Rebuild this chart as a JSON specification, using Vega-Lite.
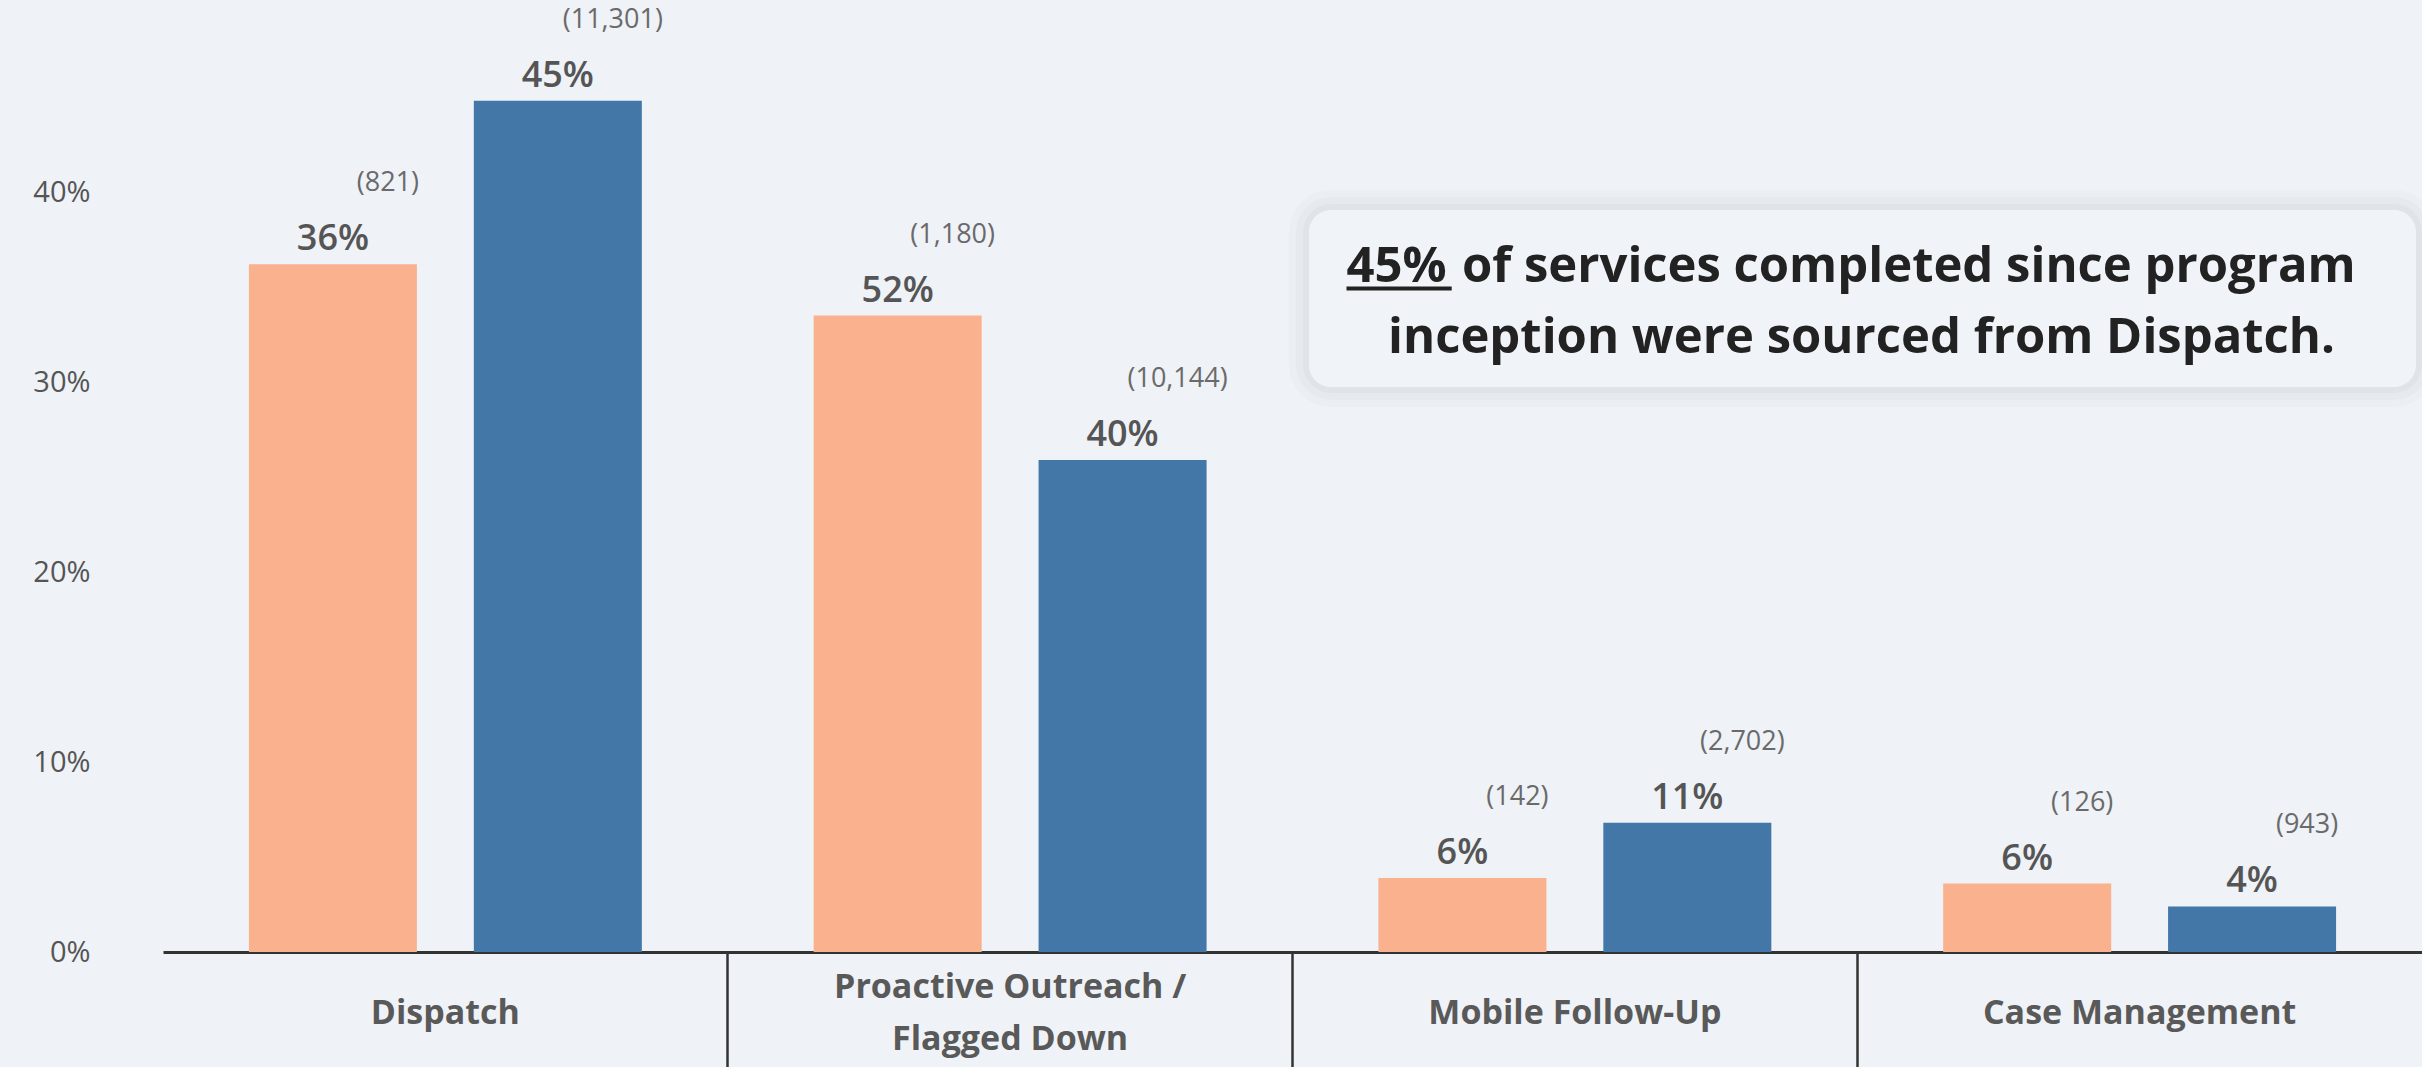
{
  "$schema": "https://vega.github.io/schema/vega-lite/v6.json",
  "width": 2259,
  "height": 950,
  "autosize": {"type": "none"},
  "padding": {"left": 163, "top": 2, "right": 0, "bottom": 115},
  "background": "#EFF2F7",
  "config": {"view": {"stroke": null}, "font": "Open Sans"},
  "datasets": {
    "bars": [
      {"category": "Dispatch", "series": "Recent", "share": 36.2, "pct": "36%", "count": "(821)"},
      {"category": "Dispatch", "series": "Since Inception", "share": 44.8, "pct": "45%", "count": "(11,301)"},
      {"category": "Proactive Outreach / Flagged Down", "series": "Recent", "share": 33.5, "pct": "52%", "count": "(1,180)"},
      {"category": "Proactive Outreach / Flagged Down", "series": "Since Inception", "share": 25.9, "pct": "40%", "count": "(10,144)"},
      {"category": "Mobile Follow-Up", "series": "Recent", "share": 3.9, "pct": "6%", "count": "(142)"},
      {"category": "Mobile Follow-Up", "series": "Since Inception", "share": 6.8, "pct": "11%", "count": "(2,702)"},
      {"category": "Case Management", "series": "Recent", "share": 3.6, "pct": "6%", "count": "(126)"},
      {"category": "Case Management", "series": "Since Inception", "share": 2.4, "pct": "4%", "count": "(943)"}
    ],
    "note": [{"a": "45%", "b": "of services completed since program", "c": "inception were sourced from Dispatch."}]
  },
  "layer": [
    {
      "data": {"name": "bars"},
      "encoding": {
        "x": {
          "field": "category", "type": "nominal", "sort": null,
          "scale": {"paddingInner": 0, "paddingOuter": 0},
          "axis": {
            "title": null, "domain": true, "domainColor": "#333333", "domainWidth": 3,
            "ticks": true, "tickColor": "#333333", "tickWidth": 2.5, "tickSize": 115, "bandPosition": 0,
            "tickOpacity": {"condition": {"test": "datum.value === 'Dispatch'", "value": 0}, "value": 1},
            "labelAngle": 0, "labelFontSize": 34, "labelFontWeight": 700, "labelColor": "#595959",
            "labelPadding": {"condition": {"test": "datum.value === 'Proactive Outreach / Flagged Down'", "value": -80}, "value": -54},
            "labelBaseline": "middle", "labelLineHeight": 52, "labelLimit": 800,
            "labelOverlap": false,
            "labelExpr": "datum.value === 'Proactive Outreach / Flagged Down' ? ['Proactive Outreach /', 'Flagged Down'] : datum.value"
          }
        },
        "xOffset": {"field": "series", "type": "nominal", "sort": ["Recent", "Since Inception"], "scale": {"paddingInner": 0.253, "paddingOuter": 0.382}},
        "y": {
          "field": "share", "type": "quantitative",
          "scale": {"domain": [0, 50], "nice": false, "zero": true},
          "axis": {"title": null, "values": [0, 10, 20, 30, 40], "labelExpr": "datum.value + '%'", "domain": false, "ticks": false, "grid": false, "labelFontSize": 29, "labelFontWeight": 500, "labelColor": "#555555", "labelPadding": 73}
        }
      },
      "layer": [
        {"mark": {"type": "bar"}, "encoding": {"color": {"field": "series", "type": "nominal", "scale": {"domain": ["Recent", "Since Inception"], "range": ["#F9B28D", "#4277A7"]}, "legend": null}}},
        {"mark": {"type": "text", "dy": -25, "baseline": "middle", "fontSize": 36, "fontWeight": 600, "color": "#555555"}, "encoding": {"text": {"field": "pct"}}},
        {"mark": {"type": "text", "dy": -81, "dx": 55, "baseline": "middle", "fontSize": 27, "fontWeight": 400, "color": "#6a6a6a"}, "encoding": {"text": {"field": "count"}}}
      ]
    },
    {
      "data": {"name": "note"},
      "encoding": {
        "x": {"datum": 2.0292, "type": "quantitative", "scale": {"domain": [0, 4], "nice": false, "zero": false}, "axis": null},
        "x2": {"datum": 3.9894},
        "y": {"datum": 39.05, "type": "quantitative", "scale": {"domain": [0, 50], "nice": false, "zero": true}, "axis": null},
        "y2": {"datum": 29.74}
      },
      "layer": [
        {"mark": {"type": "rect", "cornerRadius": 22, "fill": null, "stroke": "#000000", "strokeOpacity": 0.015, "strokeWidth": 40}},
        {"mark": {"type": "rect", "cornerRadius": 22, "fill": null, "stroke": "#000000", "strokeOpacity": 0.02, "strokeWidth": 26}},
        {"mark": {"type": "rect", "cornerRadius": 22, "fill": null, "stroke": "#000000", "strokeOpacity": 0.025, "strokeWidth": 12}},
        {"mark": {"type": "rect", "cornerRadius": 22, "fill": "#F0F3F7", "stroke": null}},
        {
          "mark": {"type": "text", "align": "left", "baseline": "alphabetic", "fontSize": 49, "fontWeight": 700, "color": "#222222"},
          "encoding": {"x": {"datum": 2.0956, "type": "quantitative"}, "x2": null, "y": {"datum": 35.263, "type": "quantitative"}, "y2": null, "text": {"field": "a"}}
        },
        {
          "mark": {"type": "rule", "strokeWidth": 4, "color": "#222222"},
          "encoding": {"x": {"datum": 2.0956, "type": "quantitative"}, "x2": {"datum": 2.2819}, "y": {"datum": 34.92, "type": "quantitative"}, "y2": null}
        },
        {
          "mark": {"type": "text", "align": "left", "baseline": "alphabetic", "fontSize": 49, "fontWeight": 700, "color": "#222222"},
          "encoding": {"x": {"datum": 2.3, "type": "quantitative"}, "x2": null, "y": {"datum": 35.263, "type": "quantitative"}, "y2": null, "text": {"field": "b"}}
        },
        {
          "mark": {"type": "text", "align": "center", "baseline": "alphabetic", "fontSize": 49, "fontWeight": 700, "color": "#222222"},
          "encoding": {"x": {"datum": 3.0075, "type": "quantitative"}, "x2": null, "y": {"datum": 31.526, "type": "quantitative"}, "y2": null, "text": {"field": "c"}}
        }
      ]
    }
  ],
  "resolve": {"scale": {"x": "independent", "y": "independent"}}
}
